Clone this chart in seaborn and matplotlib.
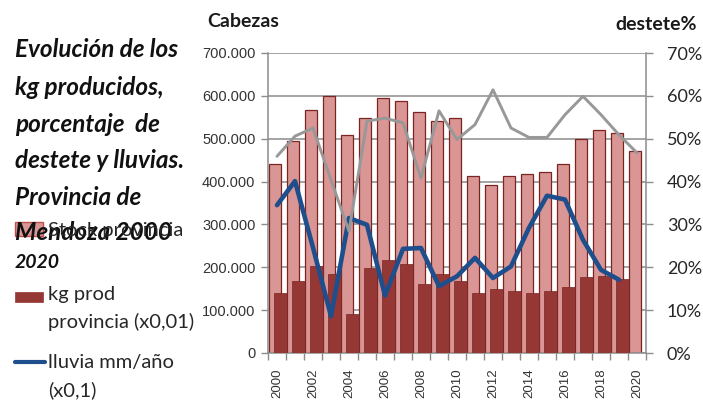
import numpy as np
import pandas as pd
import matplotlib.pyplot as plt
import matplotlib.ticker as mticker
from matplotlib.patches import Rectangle
from matplotlib.lines import Line2D
import seaborn as sns

# data
years = list(range(2000, 2021))
stock = [441000, 495000, 568000, 599000, 508000, 548000, 594000, 589000, 563000, 541000,
         548000, 414000, 391000, 414000, 418000, 422000, 441000, 500000, 521000, 513000, 472000]
kg_prod = [140000, 167000, 202000, 185000, 92000, 198000, 216000, 208000, 162000, 184000,
           167000, 140000, 149000, 144000, 140000, 144000, 154000, 177000, 180000, 173000, np.nan]
lluvia = [345000, 401000, 246000, 86000, 315000, 299000, 134000, 243000, 245000, 156000,
          179000, 222000, 175000, 202000, 292000, 367000, 358000, 264000, 194000, 171000, np.nan]
destete = [45.9, 50.6, 52.5, 40.4, 28.4, 54.1, 54.8, 53.7, 40.8, 56.5,
           49.8, 53.3, 61.4, 52.5, 50.3, 50.3, 55.6, 59.9, 55.6, 50.9, 46.7]

title_lines = ["Evolución de los", "kg producidos,", "porcentaje  de", "destete y lluvias.",
               "Provincia de", "Mendoza 2000", "2020"]

sns.set_style("white")
plt.rcParams["font.family"] = ["Lato", "DejaVu Sans"]

df = pd.DataFrame({"year": years, "stock": stock, "kg_prod": kg_prod,
                   "lluvia": lluvia, "destete": np.array(destete) / 100})
df["pos"] = np.arange(len(df))

W, H = 703, 409
fig = plt.figure(figsize=(W / 100, H / 100), dpi=100)
ax = fig.add_axes([268 / W, 1 - 353 / H, 378 / W, 300 / H])
ax2 = ax.twinx()

grey = "#8c8c8c"
light_red = "#D99694"
dark_red = "#953735"
blue = "#1F4E8C"

# bars (Excel-style overlap: light bar behind, dark bar in front shifted right)
ax.bar(df["pos"] - 0.12, df["stock"], width=0.66, color=light_red,
       edgecolor="#7B2422", linewidth=0.9, zorder=2)
ax.bar(df["pos"] + 0.18, df["kg_prod"], width=0.70, color=dark_red,
       edgecolor="#7B2422", linewidth=0.5, zorder=3)
sns.lineplot(data=df, x="pos", y="lluvia", ax=ax, color=blue, linewidth=3.3, zorder=4)
sns.lineplot(data=df, x="pos", y="destete", ax=ax2, color="#989898", linewidth=2.1)

# left axis
ax.set_xlim(-0.5, len(years) - 0.5)
ax.set_ylim(0, 700000)
ax.set_yticks(range(0, 700001, 100000))
ax.yaxis.set_major_formatter(mticker.FuncFormatter(lambda v, p: f"{v:,.0f}".replace(",", ".")))
ax.yaxis.grid(True, color=grey, linewidth=1.1)
ax.set_axisbelow(True)
ax.tick_params(axis="y", direction="out", length=5, width=1, color=grey,
               labelsize=10.5, labelcolor="#333333", pad=4, left=True)
for lab in ax.get_yticklabels():
    lab.set_fontfamily("Liberation Sans")

# x axis: labels on even years, tick marks at category boundaries
ax.set_xticks(df["pos"][::2])
ax.set_xticklabels([str(y) for y in years[::2]], rotation=90, fontsize=9.5,
                   color="#333333", fontfamily="Liberation Sans")
ax.set_xticks(np.arange(-0.5, len(years)), minor=True)
ax.tick_params(axis="x", which="major", length=0, pad=11)
ax.tick_params(axis="x", which="minor", direction="out", length=5, width=1, color=grey, bottom=True)
ax.set_xlabel("")
ax.set_ylabel("")

# right axis
ax2.set_ylim(0, 0.7)
ax2.set_yticks(np.arange(0, 0.71, 0.1))
ax2.yaxis.set_major_formatter(mticker.PercentFormatter(1.0, decimals=0))
ax2.tick_params(axis="y", direction="out", length=5, width=1, color=grey,
                labelsize=13, labelcolor="#262626", pad=10, right=True)
ax2.set_ylabel("")

for a in (ax, ax2):
    for s in a.spines.values():
        s.set_visible(False)
ax.spines["left"].set_visible(True)
ax.spines["bottom"].set_visible(True)
ax2.spines["right"].set_visible(True)
for s in (ax.spines["left"], ax.spines["bottom"], ax2.spines["right"]):
    s.set_color(grey)
    s.set_linewidth(1.1)

# axis titles
fig.text(207 / W, 1 - 27 / H, "Cabezas", fontsize=14, fontweight="bold", va="baseline", color="#1a1a1a")
fig.text(697 / W, 1 - 30 / H, "destete%", fontsize=14, fontweight="bold", va="baseline",
         ha="right", color="#1a1a1a")

# title block on the left
baselines = [57, 95, 132, 168, 205, 240, 268]
for i, (txt, yb) in enumerate(zip(title_lines, baselines)):
    fig.text(15 / W, 1 - yb / H, txt, fontsize=14 if i == 6 else 17.5,
             fontweight="bold", fontstyle="italic", va="baseline", color="#111111")

# legend drawn by hand (Excel aligns the key with the first text line)
def px_rect(x0, y0, x1, y1, **kw):
    fig.add_artist(Rectangle((x0 / W, 1 - y1 / H), (x1 - x0) / W, (y1 - y0) / H,
                             transform=fig.transFigure, **kw))

px_rect(15, 222, 43, 236, facecolor=light_red, edgecolor="#C0504D", linewidth=1)
px_rect(15, 292, 43, 302, facecolor=dark_red, edgecolor=dark_red, linewidth=0.5)
fig.add_artist(Line2D([15 / W, 45 / W], [1 - 362 / H, 1 - 362 / H], color=blue,
                      linewidth=3, transform=fig.transFigure))

leg_kw = dict(fontsize=14.5, va="baseline", color="#262626")
fig.text(48 / W, 1 - 236 / H, "Stock provincia", **leg_kw)
fig.text(48 / W, 1 - 300 / H, "kg prod", **leg_kw)
fig.text(48 / W, 1 - 328 / H, "provincia (x0,01)", **leg_kw)
fig.text(48 / W, 1 - 368 / H, "lluvia mm/año", **leg_kw)
fig.text(48 / W, 1 - 396 / H, "(x0,1)", **leg_kw)

fig.savefig("out.png", dpi=100)
